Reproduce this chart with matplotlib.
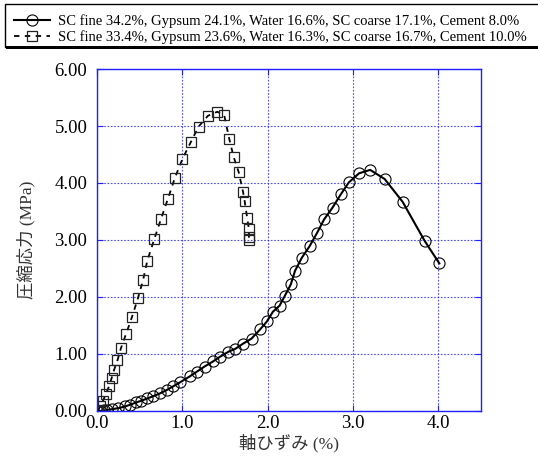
import matplotlib
matplotlib.use("Agg")
import matplotlib.pyplot as plt
from matplotlib.patches import Rectangle

plt.rcParams['font.family'] = ['Liberation Serif', 'Noto Sans CJK JP']

# series 1: cement 8.0%
strain_a = [0.0, 0.04, 0.08, 0.12, 0.17, 0.25, 0.33, 0.39, 0.46, 0.52, 0.59, 0.66,
            0.74, 0.82, 0.89, 0.97, 1.09, 1.17, 1.26, 1.36, 1.44, 1.54, 1.62, 1.71,
            1.81, 1.91, 1.99, 2.06, 2.14, 2.20, 2.27, 2.32, 2.40, 2.49, 2.58, 2.66,
            2.76, 2.86, 2.95, 3.07, 3.20, 3.37, 3.58, 3.84, 4.01]
stress_a = [0.0, 0.0, 0.01, 0.02, 0.03, 0.05, 0.08, 0.11, 0.15, 0.18, 0.22, 0.26,
            0.31, 0.37, 0.43, 0.50, 0.61, 0.69, 0.78, 0.87, 0.95, 1.04, 1.09, 1.18,
            1.27, 1.43, 1.57, 1.74, 1.85, 2.02, 2.22, 2.46, 2.69, 2.89, 3.13, 3.36,
            3.57, 3.81, 4.01, 4.17, 4.23, 4.07, 3.67, 2.98, 2.59]

# series 2: cement 10.0%
strain_b = [0.0, 0.015, 0.035, 0.07, 0.105, 0.14, 0.17, 0.20, 0.24, 0.28, 0.34, 0.41,
            0.48, 0.54, 0.59, 0.67, 0.75, 0.83, 0.91, 1.00, 1.10, 1.19, 1.30, 1.41,
            1.49, 1.55, 1.60, 1.66, 1.71, 1.73, 1.76, 1.78, 1.78, 1.78]
stress_b = [0.0, 0.02, 0.09, 0.18, 0.30, 0.43, 0.57, 0.72, 0.89, 1.10, 1.35, 1.65,
            1.98, 2.30, 2.64, 3.01, 3.37, 3.72, 4.08, 4.42, 4.72, 4.99, 5.18, 5.25,
            5.19, 4.77, 4.46, 4.19, 3.85, 3.68, 3.38, 3.19, 3.05, 3.00]

labels = ['SC fine 34.2%, Gypsum 24.1%, Water 16.6%, SC coarse 17.1%, Cement 8.0%',
          'SC fine 33.4%, Gypsum 23.6%, Water 16.3%, SC coarse 16.7%, Cement 10.0%']

xticks = [0.0, 1.0, 2.0, 3.0, 4.0]
yticks = [0, 1, 2, 3, 4, 5, 6]

blue = '#2020ff'

fig = plt.figure(figsize=(5.38, 4.57), dpi=100)
ax = fig.add_axes([0.1803, 0.1007, 0.714, 0.7483])

l1, = ax.plot(strain_a, stress_a, '-', color='k', lw=1.5, marker='o', ms=8,
              mfc='none', mec='k', mew=0.8)
l2, = ax.plot(strain_b, stress_b, '--', color='k', lw=1.3, marker='s', ms=6.8,
              mfc='none', mec='#222222', mew=0.9, dashes=(3, 3))

ax.set_xlim(0, 4.5)
ax.set_ylim(0, 6)
ax.set_xticks(xticks)
ax.set_xticklabels(['%.1f' % v for v in xticks])
ax.set_yticks(yticks)
ax.set_yticklabels(['%.2f' % v for v in yticks])
ax.grid(True, color=blue, ls=(0, (1.5, 1.5)), lw=0.8, alpha=0.8)
for s in ax.spines.values():
    s.set_color(blue)
    s.set_linewidth(1.0)
ax.tick_params(direction='in', color=blue, length=4, labelsize=13.5,
               right=True, top=True)
ax.tick_params(axis='y', pad=7)
ax.tick_params(axis='x', pad=3)
ax.set_xlabel('軸ひずみ (%)', fontsize=12.5, color='#333333', labelpad=1)
ax.set_ylabel('圧縮応力 (MPa)', fontsize=12.5, color='#333333', labelpad=14)

# legend box with shadow
fig.patches.append(Rectangle((0.0093, 0.897), 1.0, 0.094, transform=fig.transFigure,
                             fill=False, ec='k', lw=1.0, zorder=1))
fig.patches.append(Rectangle((0.012, 0.892), 1.0, 0.007, transform=fig.transFigure,
                             fc='k', ec='none', zorder=1))
fig.legend(handles=[l1, l2], labels=labels, loc='upper left',
           bbox_to_anchor=(0.017, 0.979), frameon=False, fontsize=10.5,
           handlelength=2.5, handletextpad=0.55, labelspacing=0.15,
           borderaxespad=0.0, borderpad=0.3)

fig.savefig('out.png', dpi=100)
